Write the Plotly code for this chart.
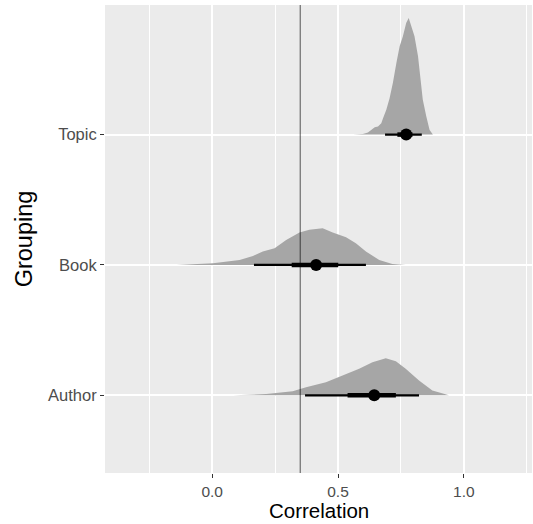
import plotly.graph_objects as go

# ---- data ----
categories = ["Author", "Book", "Topic"]
cat_pos = [1, 2, 3]

topic_x = [0.560, 0.599, 0.619, 0.633, 0.646, 0.659, 0.672, 0.679, 0.692, 0.705, 0.718, 0.732,
           0.745, 0.758, 0.771, 0.781, 0.791, 0.804, 0.818, 0.827, 0.837, 0.851, 0.864, 0.877]
topic_h = [0.0, 0.005, 0.015, 0.036, 0.056, 0.062, 0.087, 0.126, 0.190, 0.279, 0.395, 0.549,
           0.677, 0.754, 0.856, 0.895, 0.831, 0.754, 0.600, 0.446, 0.267, 0.138, 0.036, 0.0]

book_x = [-0.142, 0.003, 0.109, 0.162, 0.201, 0.248, 0.294, 0.347, 0.386, 0.439, 0.479, 0.532,
          0.571, 0.611, 0.664, 0.716, 0.769]
book_h = [0.0, 0.013, 0.038, 0.069, 0.103, 0.128, 0.192, 0.249, 0.269, 0.282, 0.249, 0.213,
          0.167, 0.103, 0.038, 0.008, 0.0]

author_x = [0.083, 0.215, 0.320, 0.373, 0.452, 0.532, 0.584, 0.637, 0.690, 0.730, 0.769, 0.822,
            0.875, 0.941]
author_h = [0.0, 0.010, 0.031, 0.062, 0.100, 0.159, 0.203, 0.254, 0.285, 0.262, 0.203, 0.113,
            0.036, 0.0]

point_est = [0.644, 0.413, 0.771]          # Author, Book, Topic
inner_lo = [0.538, 0.316, 0.736]
inner_hi = [0.730, 0.501, 0.796]
outer_lo = [0.369, 0.166, 0.687]
outer_hi = [0.822, 0.611, 0.833]

ref_line = 0.35

x_ticks = [0.0, 0.5, 1.0]
x_tick_text = ["0.0", "0.5", "1.0"]
x_range = [-0.426, 1.271]
y_range = [0.404, 3.994]

x_title = "Correlation"
y_title = "Grouping"

# ---- figure ----
fig = go.Figure()

slabs = [(author_x, author_h), (book_x, book_h), (topic_x, topic_h)]
for (xs, hs), base in zip(slabs, cat_pos):
    px = list(xs) + list(xs[::-1])
    py = [base + h for h in hs] + [base] * len(xs)
    fig.add_trace(go.Scatter(x=px, y=py, fill="toself", mode="lines",
                             line=dict(width=0, color="#A6A6A6"),
                             fillcolor="#A6A6A6", hoverinfo="skip", showlegend=False))

# reference line
fig.add_trace(go.Scatter(x=[ref_line, ref_line], y=y_range, mode="lines",
                         line=dict(color="rgba(0,0,0,0.5)", width=1.3),
                         hoverinfo="skip", showlegend=False))

for i, base in enumerate(cat_pos):
    fig.add_trace(go.Scatter(x=[outer_lo[i], outer_hi[i]], y=[base, base], mode="lines",
                             line=dict(color="black", width=2.2), showlegend=False))
    fig.add_trace(go.Scatter(x=[inner_lo[i], inner_hi[i]], y=[base, base], mode="lines",
                             line=dict(color="black", width=4.5), showlegend=False))
fig.add_trace(go.Scatter(x=point_est, y=cat_pos, mode="markers",
                         marker=dict(color="black", size=12), showlegend=False))

fig.update_layout(
    width=533, height=524,
    margin=dict(l=105, r=1, t=5, b=51),
    paper_bgcolor="white",
    plot_bgcolor="#EBEBEB",
    font=dict(family="Liberation Sans, Arial, sans-serif"),
    showlegend=False,
    annotations=[
        dict(text=x_title, xref="paper", yref="paper", x=0.5, y=-0.106,
             xanchor="center", yanchor="bottom", showarrow=False, borderpad=0,
             font=dict(size=20.5, color="black")),
    ],
)
fig.update_xaxes(
    range=x_range, tickvals=x_ticks, ticktext=x_tick_text,
    showgrid=True, gridcolor="white", gridwidth=1.5,
    minor=dict(dtick=0.25, tick0=0, showgrid=True, gridcolor="white", gridwidth=0.8, ticks=""),
    ticks="outside", ticklen=4, tickcolor="#333333", tickwidth=1,
    tickfont=dict(size=15.5, color="#4D4D4D"),
    zeroline=False, showline=False,
)
fig.update_yaxes(
    range=y_range, tickvals=cat_pos, ticktext=categories,
    showgrid=True, gridcolor="white", gridwidth=1.5,
    ticks="outside", ticklen=4, tickcolor="#333333", tickwidth=1,
    tickfont=dict(size=16.5, color="#4D4D4D"),
    title=dict(text=y_title, font=dict(size=23.5, color="black"), standoff=8),
    zeroline=False, showline=False,
)

fig.write_html("out.html")
